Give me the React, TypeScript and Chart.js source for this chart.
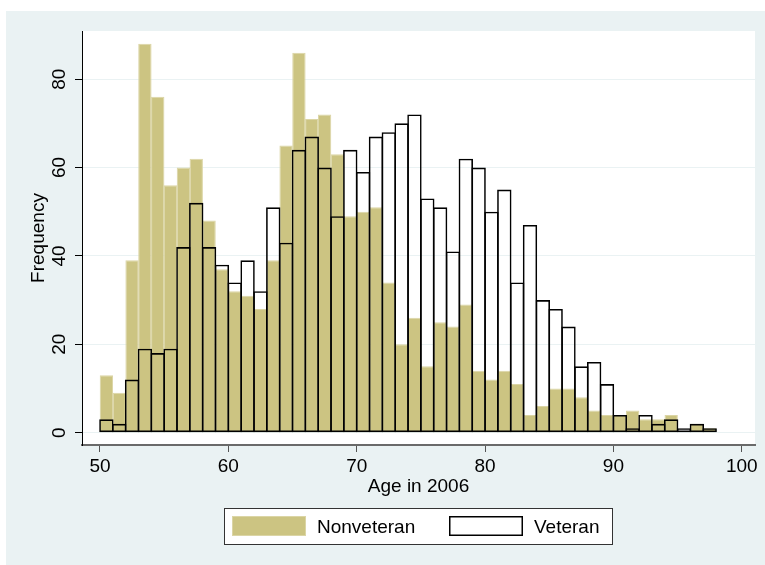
import React, { useEffect, useRef } from "react";
import { Chart, registerables } from "chart.js";

Chart.register(...registerables);

// ---- data ----
const binStarts = [
  50, 51, 52, 53, 54, 55, 56, 57, 58, 59,
  60, 61, 62, 63, 64, 65, 66, 67, 68, 69,
  70, 71, 72, 73, 74, 75, 76, 77, 78, 79,
  80, 81, 82, 83, 84, 85, 86, 87, 88, 89,
  90, 91, 92, 93, 94, 95, 96, 97,
];
const binWidth = 1;
const nonveteran = [
  13, 9, 39, 88, 76, 56, 60, 62, 48, 37,
  32, 31, 28, 39, 65, 86, 71, 72, 63, 49,
  50, 51, 34, 20, 26, 15, 25, 24, 29, 14,
  12, 14, 11, 4, 6, 10, 10, 8, 5, 4,
  4, 5, 3, 3, 4, 0, 2, 1,
];
const veteran = [
  3, 2, 12, 19, 18, 19, 42, 52, 42, 38,
  34, 39, 32, 51, 43, 64, 67, 60, 49, 64,
  59, 67, 68, 70, 72, 53, 51, 41, 62, 60,
  50, 55, 34, 47, 30, 28, 24, 15, 16, 11,
  4, 1, 4, 2, 3, 1, 2, 1,
];
const seriesLabels = ["Nonveteran", "Veteran"];
const xTicks = [50, 60, 70, 80, 90, 100];
const yTicks = [0, 20, 40, 60, 80];
const xTitle = "Age in 2006";
const yTitle = "Frequency";

// ---- styles ----
const FONT = '"Liberation Sans", Arial, Helvetica, sans-serif';
const FONT_SIZE = 19;
const KHAKI = "rgb(204,196,130)";
const KHAKI_EDGE = "rgb(219,213,165)";
const BG = "#EAF2F3";
const TEXT = "#000000";

const decorPlugin = {
  id: "stataDecor",
  beforeDraw(chart: any) {
    const { ctx, chartArea } = chart;
    ctx.save();
    ctx.fillStyle = BG;
    ctx.fillRect(6, 11, chart.width - 6, chart.height - 11);
    ctx.fillStyle = "#ffffff";
    ctx.fillRect(
      chartArea.left,
      chartArea.top,
      chartArea.right - chartArea.left,
      chartArea.bottom - chartArea.top
    );
    ctx.restore();
  },
  afterDraw(chart: any) {
    const { ctx, chartArea } = chart;
    const yScale = chart.scales.y;
    ctx.save();
    ctx.fillStyle = TEXT;
    ctx.font = `${FONT_SIZE}px ${FONT}`;
    ctx.textBaseline = "alphabetic";
    ctx.textAlign = "center";

    // rotated y tick labels
    yScale.ticks.forEach((t: any) => {
      const py = yScale.getPixelForValue(t.value);
      ctx.save();
      ctx.translate(65, py);
      ctx.rotate(-Math.PI / 2);
      ctx.fillText(String(t.value), 0, 0);
      ctx.restore();
    });

    // y title
    const cy = (chartArea.top + chartArea.bottom) / 2;
    ctx.save();
    ctx.translate(44, cy);
    ctx.rotate(-Math.PI / 2);
    ctx.fillText(yTitle, 0, 0);
    ctx.restore();

    // x title
    const cx = (chartArea.left + chartArea.right) / 2;
    ctx.fillText(xTitle, cx, 492.3);

    // legend
    const ds = chart.data.datasets;
    const lx = 224.5, ly = 508.5, lw = 388, lh = 36;
    ctx.fillStyle = "#ffffff";
    ctx.fillRect(lx, ly, lw, lh);
    ctx.strokeStyle = "#333333";
    ctx.lineWidth = 1;
    ctx.strokeRect(lx, ly, lw, lh);

    // swatch 1
    ctx.fillStyle = ds[0].backgroundColor;
    ctx.fillRect(232, 516, 74, 20);
    ctx.strokeStyle = ds[0].borderColor;
    ctx.lineWidth = 1;
    ctx.strokeRect(232.5, 516.5, 73, 19);
    // swatch 2
    ctx.fillStyle = "#ffffff";
    ctx.fillRect(449, 516, 74, 20);
    ctx.strokeStyle = ds[1].borderColor;
    ctx.lineWidth = 1.5;
    ctx.strokeRect(449.75, 516.75, 72.5, 18.5);

    ctx.fillStyle = TEXT;
    ctx.textAlign = "left";
    ctx.fillText(ds[0].label, 317, 533.3);
    ctx.fillText(ds[1].label, 534, 533.3);
    ctx.restore();
  },
};

export default function App() {
  const canvasRef = useRef<HTMLCanvasElement | null>(null);

  useEffect(() => {
    const canvas = canvasRef.current;
    if (!canvas) return;
    const toPoints = (vals: number[]) =>
      binStarts.map((b, i) => ({ x: b + binWidth / 2, y: vals[i] }));

    const chart = new Chart(canvas, {
      type: "bar",
      data: {
        datasets: [
          {
            label: seriesLabels[0],
            data: toPoints(nonveteran),
            backgroundColor: KHAKI,
            borderColor: KHAKI_EDGE,
            borderWidth: 1,
            borderSkipped: false,
            grouped: false,
            order: 2,
            barPercentage: 1.04,
            categoryPercentage: 1,
          },
          {
            label: seriesLabels[1],
            data: toPoints(veteran),
            backgroundColor: "rgba(255,255,255,0)",
            borderColor: "#000000",
            borderWidth: 1.6,
            borderSkipped: false,
            grouped: false,
            order: 1,
            barPercentage: 1.12,
            categoryPercentage: 1,
          },
        ] as any,
      },
      options: {
        responsive: false,
        animation: false,
        devicePixelRatio: 1,
        layout: { padding: { left: 0, right: 10, top: 31, bottom: 0 } },
        plugins: {
          legend: { display: false },
          tooltip: { enabled: false },
          title: { display: false },
        },
        scales: {
          x: {
            type: "linear",
            min: 48.6,
            max: 101.03,
            offset: false,
            afterBuildTicks: (scale: any) => {
              scale.ticks = xTicks.map((v) => ({ value: v }));
            },
            afterFit: (scale: any) => {
              scale.height = 120;
            },
            grid: {
              display: true,
              drawOnChartArea: false,
              drawTicks: true,
              tickLength: 7,
              tickColor: "#555555",
              tickWidth: 1,
              offset: false,
            },
            border: { display: true, color: "#6a6a6a", width: 2 },
            ticks: {
              autoSkip: false,
              maxRotation: 0,
              minRotation: 0,
              padding: 3,
              color: TEXT,
              font: { family: FONT, size: FONT_SIZE },
              callback: (v: any) => String(v),
            },
          },
          y: {
            type: "linear",
            min: -2.8,
            max: 90.9,
            afterBuildTicks: (scale: any) => {
              scale.ticks = yTicks.map((v) => ({ value: v }));
            },
            afterFit: (scale: any) => {
              scale.width = 82;
            },
            grid: {
              display: true,
              drawOnChartArea: true,
              color: BG,
              lineWidth: 1,
              drawTicks: true,
              tickLength: 7,
              tickColor: "#000000",
              tickWidth: 1,
            },
            border: { display: true, color: "#000000", width: 1 },
            ticks: { display: false },
          },
        },
      } as any,
      plugins: [decorPlugin],
    });

    return () => {
      chart.destroy();
    };
  }, []);

  return (
    <div style={{ position: "absolute", left: 0, top: 0, width: 765, height: 565 }}>
      <canvas ref={canvasRef} width={765} height={565} style={{ display: "block", width: 765, height: 565 }} />
    </div>
  );
}
